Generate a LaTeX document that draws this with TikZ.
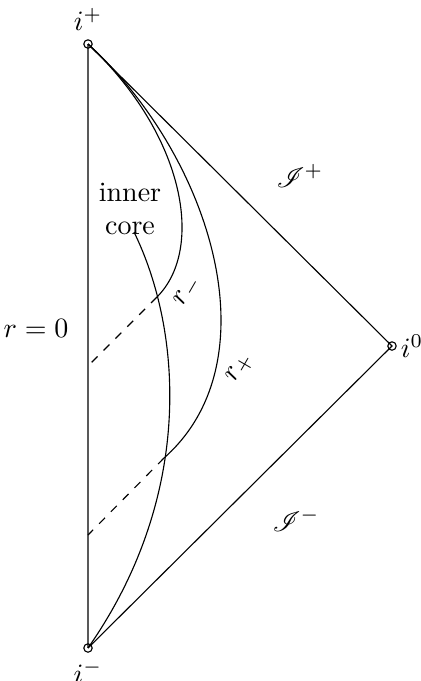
\documentclass[tikz,border=0pt]{standalone}
\usepackage{mathrsfs}
\begin{document}
\begin{tikzpicture}[x=0.357pt,y=-0.357pt,
  pt/.style={circle,draw,inner sep=0pt,minimum size=3pt},
  curve/.style={line width=0.4pt},
  axis/.style={draw=black!65,line width=0.6pt},
  lbl/.style={inner sep=1pt}]
\useasboundingbox (0,0) rectangle (421,681);
\coordinate (ip) at (88,44);
\coordinate (im) at (88,648);
\coordinate (iz) at (392,346);
\coordinate (dmA) at (88,366);
\coordinate (dmB) at (157,297);
\coordinate (dpA) at (88,535);
\coordinate (dpB) at (164,458);
\coordinate (core) at (134,232);
% boundaries
\draw[axis] (ip) -- (im);
\draw[curve] (ip) -- (iz) -- (im);
% horizons
\draw[curve] (ip) .. controls (185,135) and (205,249) .. (dmB);
\draw[curve,dashed] (dmB) -- (dmA);
\draw[curve] (ip) .. controls (210,155) and (275,360) .. (dpB);
\draw[curve,dashed] (dpB) -- (dpA);
% inner core
\draw[curve] (core) .. controls (182,330) and (195,495) .. (im);
% points
\node[pt] (nip) at (ip) {};
\node[pt] (nim) at (im) {};
\node[pt] (niz) at (iz) {};
% labels
\node[lbl] (lip) at (88,19) {$i^+$};
\node[lbl] (lim) at (88,672) {$i^-$};
\node[lbl] (liz) at (412,346) {$i^0$};
\node[lbl] (lr0) at (36,328) {$r=0$};
\node[lbl] (lsp) at (300,176) {$\mathscr{I}^+$};
\node[lbl] (lsm) at (296,520) {$\mathscr{I}^-$};
\node[lbl,rotate=60] (lrm) at (188,291) {$r_-$};
\node[lbl,rotate=60] (lrp) at (240,368) {$r_+$};
\node[lbl,align=center] (lcore) at (130,209) {inner\\core};
\end{tikzpicture}
\end{document}
